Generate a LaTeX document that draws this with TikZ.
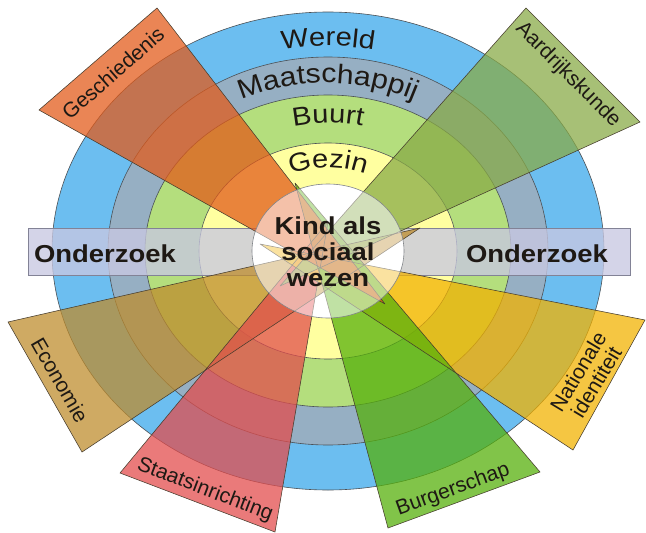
\documentclass[tikz,border=0pt]{standalone}
\usepackage{fontspec}
\setmainfont{Liberation Sans}
\newfontfamily\widefont{Liberation Sans}[FakeStretch=1.12]
\usetikzlibrary{decorations.text}

\definecolor{cWereld}{RGB}{108,190,240}
\definecolor{cMaat}{RGB}{150,175,195}
\definecolor{cBuurt}{RGB}{180,222,125}
\definecolor{cGezin}{RGB}{255,255,160}
\definecolor{cRing}{RGB}{75,80,85}
\definecolor{cBar}{RGB}{200,200,226}
\definecolor{cBarEdge}{RGB}{130,130,150}
\definecolor{cGes}{RGB}{226,90,25}
\definecolor{cAar}{RGB}{136,170,70}
\definecolor{cEco}{RGB}{190,140,45}
\definecolor{cSta}{RGB}{226,76,76}
\definecolor{cBur}{RGB}{85,176,10}
\definecolor{cNat}{RGB}{242,178,0}
\definecolor{cEdge}{RGB}{70,60,45}
\definecolor{cTxt}{RGB}{30,25,20}

\begin{document}
\begin{tikzpicture}[x=1pt,y=-1pt,
  ring/.style={draw=cRing, line width=0.6pt},
  wedgefill/.style={fill=#1, fill opacity=0.74},
  wedgeline/.style={draw=cEdge, line width=0.55pt, line join=round},
  wlabel/.style={text=cTxt, font=\fontsize{21}{22}\selectfont, inner sep=0pt},
  clabel/.style={text=cTxt, font=\widefont\bfseries\fontsize{24.5}{26}\selectfont, inner sep=0pt, anchor=base},
  bar/.style={fill=cBar, fill opacity=0.78, draw=cBarEdge, line width=0.6pt, inner sep=0pt}
]
\useasboundingbox (0,0) rectangle (646,533);

% rings
\draw[ring, fill=cWereld] (328,251) ellipse [x radius=276, y radius=239];
\draw[ring, fill=cMaat] (328,251) ellipse [x radius=220, y radius=194];
\draw[ring, fill=cBuurt] (328,251) ellipse [x radius=183, y radius=156];
\draw[ring, fill=cGezin] (328,251) ellipse [x radius=129, y radius=108];

% Onderzoek bar
\node[bar, minimum width=602, minimum height=47] (bar) at (329,251.5) {};

% inner white circle
\fill[white] (328,251) ellipse [x radius=76, y radius=67];

% wedge corners
\coordinate (g0) at (385,304); \coordinate (g1) at (39,110);  \coordinate (g2) at (157,8);
\coordinate (a0) at (280,286); \coordinate (a1) at (526,8);   \coordinate (a2) at (640,122);
\coordinate (e0) at (420,228); \coordinate (e1) at (8,322);   \coordinate (e2) at (82,452);
\coordinate (s0) at (328,222); \coordinate (s1) at (120,473); \coordinate (s2) at (275,532);
\coordinate (b0) at (295,183); \coordinate (b1) at (388,528); \coordinate (b2) at (540,472);
\coordinate (n0) at (260,244); \coordinate (n1) at (645,320); \coordinate (n2) at (573,450);

% wedge fills
\fill[wedgefill=cEco] (e0) -- (e1) -- (e2) -- cycle;
\fill[wedgefill=cSta] (s0) -- (s1) -- (s2) -- cycle;
\fill[wedgefill=cNat] (n0) -- (n1) -- (n2) -- cycle;
\fill[wedgefill=cBur] (b0) -- (b1) -- (b2) -- cycle;
\fill[wedgefill=cAar] (a0) -- (a1) -- (a2) -- cycle;
\fill[wedgefill=cGes] (g0) -- (g1) -- (g2) -- cycle;

% wedge outlines
\draw[wedgeline] (e0) -- (e1) -- (e2) -- cycle;
\draw[wedgeline] (s0) -- (s1) -- (s2) -- cycle;
\draw[wedgeline] (n0) -- (n1) -- (n2) -- cycle;
\draw[wedgeline] (b0) -- (b1) -- (b2) -- cycle;
\draw[wedgeline] (a0) -- (a1) -- (a2) -- cycle;
\draw[wedgeline] (g0) -- (g1) -- (g2) -- cycle;

% fade inside centre
\fill[white, fill opacity=0.5] (328,251) ellipse [x radius=76, y radius=67];
\draw[ring, draw=cRing!70] (328,251) ellipse [x radius=76, y radius=67];

% ring texts
\path[decorate, decoration={text along path, text align=center,
  text={|\widefont\fontsize{26}{26}\selectfont\color{cTxt}|Wereld}}]
  (328,251) ++(225:234 and 205) arc[start angle=225, end angle=315, x radius=234, y radius=205];
\path[decorate, decoration={text along path, text align=center,
  text={|\widefont\fontsize{27}{27}\selectfont\color{cTxt}|Maatschappij}}]
  (328,251) ++(225:196 and 168) arc[start angle=225, end angle=315, x radius=196, y radius=168];
\path[decorate, decoration={text along path, text align=center,
  text={|\widefont\fontsize{26}{26}\selectfont\color{cTxt}|Buurt}}]
  (328,251) ++(225:150 and 128) arc[start angle=225, end angle=315, x radius=150, y radius=128];
\path[decorate, decoration={text along path, text align=center,
  text={|\widefont\fontsize{26}{26}\selectfont\color{cTxt}|Gezin}}]
  (328,251) ++(225:97 and 83) arc[start angle=225, end angle=315, x radius=97, y radius=83];

% Onderzoek labels
\node[clabel] (ol) at (105,262) {Onderzoek};
\node[clabel] (or) at (537,262) {Onderzoek};

% centre text
\node[clabel] (k1) at (328,234) {Kind als};
\node[clabel] (k2) at (328,260) {sociaal};
\node[clabel] (k3) at (328,286) {wezen};

% wedge labels
\node[wlabel, rotate=41]  (tg) at (113,73)  {Geschiedenis};
\node[wlabel, rotate=-45] (ta) at (568,75)  {Aardrijkskunde};
\node[wlabel, rotate=-60] (te) at (60,380)  {Economie};
\node[wlabel, rotate=-21] (ts) at (205,490) {Staatsinrichting};
\node[wlabel, rotate=20]  (tb) at (453,490) {Burgerschap};
\node[wlabel, rotate=59, align=center, font=\fontsize{21}{21}\selectfont] (tn) at (587,377) {Nationale\\identiteit};
\end{tikzpicture}
\end{document}
